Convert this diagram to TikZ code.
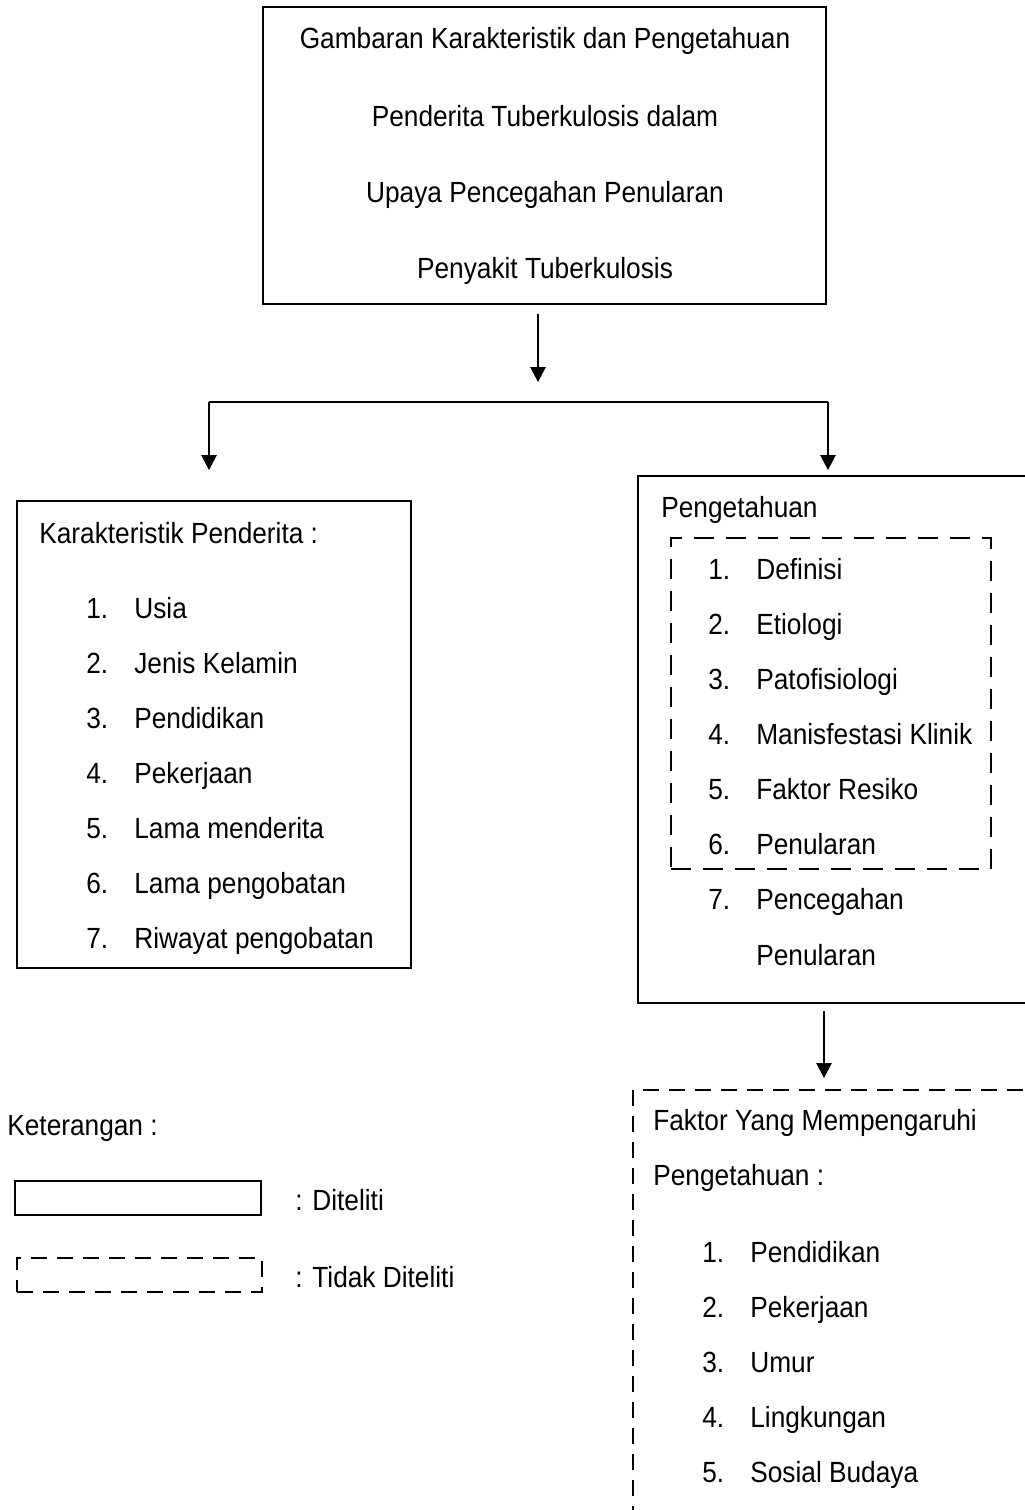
\documentclass[tikz,border=0pt]{standalone}
\usepackage{fontspec}
\setmainfont[FakeStretch=0.9]{Liberation Sans}
\usetikzlibrary{arrows.meta,fit}
\newcommand{\nomor}[1]{\makebox[9.6mm][l]{#1}}

\begin{document}
\begin{tikzpicture}[x=0.2mm,y=-0.2mm,
    txt/.style={anchor=base west,inner sep=0pt,font=\fontsize{16.6pt}{19pt}\selectfont},
    judul/.style={txt,anchor=base},
    diteliti/.style={draw,line width=1.5pt,inner sep=0pt},
    tidak/.style={draw,line width=1pt,dash pattern=on 3.2mm off 2mm,inner sep=0pt},
    panah/.style={line width=0.7pt,-{Triangle[width=3.1mm,length=3mm]}},
    garis/.style={line width=0.7pt}]
    \clip (0,0) rectangle (1025,1510);
    % judul
    \node[diteliti, fit={(263,7) (826,304)}] (gambaran) {};
    \node[judul] (j1) at (545,48) {Gambaran Karakteristik dan Pengetahuan};
    \node[judul] (j2) at (545,126) {Penderita Tuberkulosis dalam};
    \node[judul] (j3) at (545,202) {Upaya Pencegahan Penularan};
    \node[judul] (j4) at (545,278) {Penyakit Tuberkulosis};
    % cabang
    \coordinate (a1) at (538,314);
    \coordinate (a2) at (538,382);
    \coordinate (cabangkiri) at (209,402);
    \coordinate (cabangkanan) at (828,402);
    \coordinate (ujungkiri) at (209,470);
    \coordinate (ujungkanan) at (828,470);
    \draw[panah] (a1) -- (a2);
    \draw[garis] (cabangkiri) -- (cabangkanan);
    \draw[panah] (cabangkiri) -- (ujungkiri);
    \draw[panah] (cabangkanan) -- (ujungkanan);
    % karakteristik
    \node[diteliti, fit={(17,501) (411,968)}] (karakteristik) {};
    \node[txt] (k0) at (39,543) {Karakteristik Penderita :};
    \node[txt] (k1) at (86,618) {\nomor{1.}Usia};
    \node[txt] (k2) at (86,673) {\nomor{2.}Jenis Kelamin};
    \node[txt] (k3) at (86,728) {\nomor{3.}Pendidikan};
    \node[txt] (k4) at (86,783) {\nomor{4.}Pekerjaan};
    \node[txt] (k5) at (86,838) {\nomor{5.}Lama menderita};
    \node[txt] (k6) at (86,893) {\nomor{6.}Lama pengobatan};
    \node[txt] (k7) at (86,948) {\nomor{7.}Riwayat pengobatan};
    % pengetahuan
    \node[diteliti, fit={(638,476) (1045,1003)}] (pengetahuan) {};
    \node[tidak, line width=1.5pt, dash pattern=on 4mm off 2.4mm, fit={(671,538) (991,869)}] (materi) {};
    \node[txt] (p0) at (661,517) {Pengetahuan};
    \node[txt] (p1) at (708,579) {\nomor{1.}Definisi};
    \node[txt] (p2) at (708,634) {\nomor{2.}Etiologi};
    \node[txt] (p3) at (708,689) {\nomor{3.}Patofisiologi};
    \node[txt] (p4) at (708,744) {\nomor{4.}Manisfestasi Klinik};
    \node[txt] (p5) at (708,799) {\nomor{5.}Faktor Resiko};
    \node[txt] (p6) at (708,854) {\nomor{6.}Penularan};
    \node[txt] (p7) at (708,909) {\nomor{7.}Pencegahan};
    \node[txt] (p7b) at (708,965) {\nomor{}Penularan};
    \coordinate (b1) at (824,1011);
    \coordinate (b2) at (824,1078);
    \draw[panah] (b1) -- (b2);
    % faktor
    \node[tidak, line width=0.9pt, fit={(633,1090) (1045,1540)}] (faktor) {};
    \node[txt] (f0) at (653,1130) {Faktor Yang Mempengaruhi};
    \node[txt] (f00) at (653,1185) {Pengetahuan :};
    \node[txt] (f1) at (702,1262) {\nomor{1.}Pendidikan};
    \node[txt] (f2) at (702,1317) {\nomor{2.}Pekerjaan};
    \node[txt] (f3) at (702,1372) {\nomor{3.}Umur};
    \node[txt] (f4) at (702,1427) {\nomor{4.}Lingkungan};
    \node[txt] (f5) at (702,1482) {\nomor{5.}Sosial Budaya};
    % keterangan
    \node[txt] (ket) at (7,1135) {Keterangan :};
    \node[diteliti, line width=1.1pt, fit={(15,1181) (261,1215)}] (ket1) {};
    \node[txt] (ket1t) at (295,1210) {: Diteliti};
    \node[tidak, line width=1.1pt, fit={(17,1258) (262,1292)}] (ket2) {};
    \node[txt] (ket2t) at (295,1287) {: Tidak Diteliti};
\end{tikzpicture}
\end{document}
